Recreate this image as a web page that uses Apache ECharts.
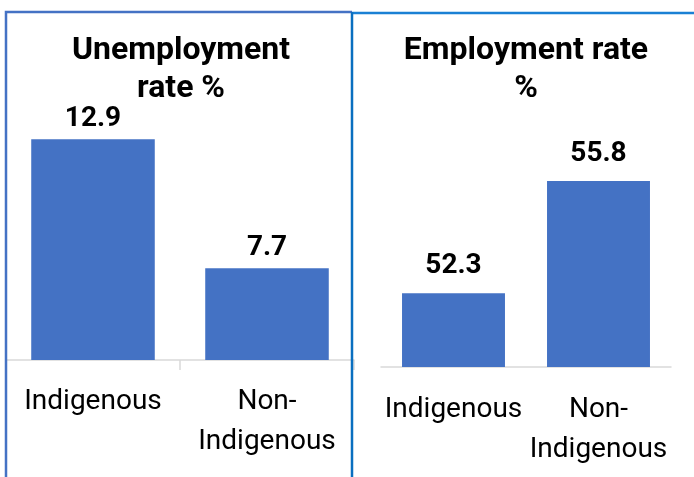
<!DOCTYPE html>
<html>
<head>
<meta charset="utf-8">
<script src="https://cdn.jsdelivr.net/npm/echarts@6/dist/echarts.min.js"></script>
<style>
html,body{margin:0;padding:0;background:#fff;}
#c{width:694px;height:477px;}
</style>
</head>
<body>
<div id="c"></div>
<script>
const categories = ['Indigenous', 'Non-\nIndigenous'];
const unemploymentTitle = 'Unemployment\nrate %';
const employmentTitle = 'Employment rate\n%';
const unemploymentValues = [12.9, 7.7];
const employmentValues = [52.3, 55.8];

const FONT = 'Roboto';
const BAR = '#4472C4';

const chart = echarts.init(document.getElementById('c'), null, {renderer: 'canvas'});
chart.setOption({
  backgroundColor: '#ffffff',
  animation: false,
  textStyle: {fontFamily: FONT},
  title: [
    {text: unemploymentTitle, left: 181, top: 32, textAlign: 'center', padding: 0,
     textStyle: {fontFamily: FONT, fontSize: 32, fontWeight: 'bold', color: '#000', lineHeight: 38}},
    {text: employmentTitle, left: 526, top: 32, textAlign: 'center', padding: 0,
     textStyle: {fontFamily: FONT, fontSize: 32, fontWeight: 'bold', color: '#000', lineHeight: 38}}
  ],
  grid: [
    {left: 6, width: 348, top: 112, height: 248},
    {left: 381, width: 290, top: 46.3, height: 320.7}
  ],
  xAxis: [
    {type: 'category', gridIndex: 0, data: categories,
     axisLine: {lineStyle: {color: '#d9d9d9', width: 1.5}},
     axisTick: {show: true, length: 10, lineStyle: {color: '#d9d9d9', width: 1.5}},
     axisLabel: {fontFamily: FONT, fontSize: 28, color: '#000', lineHeight: 40, margin: 22, interval: 0}},
    {type: 'category', gridIndex: 1, data: categories,
     axisLine: {lineStyle: {color: '#d9d9d9', width: 1.5}},
     axisTick: {show: false},
     axisLabel: {fontFamily: FONT, fontSize: 28, color: '#000', lineHeight: 40, margin: 23, interval: 0}}
  ],
  yAxis: [
    {type: 'value', gridIndex: 0, min: 4, max: 14, show: false, splitLine: {show: false}},
    {type: 'value', gridIndex: 1, min: 50, max: 60, show: false, splitLine: {show: false}}
  ],
  series: [
    {type: 'bar', xAxisIndex: 0, yAxisIndex: 0, data: unemploymentValues, barWidth: '71%',
     itemStyle: {color: BAR},
     label: {show: true, position: 'top', distance: 6, fontFamily: FONT, fontSize: 28, fontWeight: 'bold', color: '#000'}},
    {type: 'bar', xAxisIndex: 1, yAxisIndex: 1, data: employmentValues, barWidth: '71%',
     itemStyle: {color: BAR},
     label: {show: true, position: 'top', distance: 13, fontFamily: FONT, fontSize: 28, fontWeight: 'bold', color: '#000'}}
  ],
  graphic: [
    {type: 'polyline', z: 100, shape: {points: [[6, 477], [6, 12], [352, 12]]},
     style: {stroke: '#4472C4', lineWidth: 2.5, fill: null}},
    {type: 'polyline', z: 101, shape: {points: [[694, 13], [352, 13]]},
     style: {stroke: '#1a80d4', lineWidth: 2.5, fill: null}},
    {type: 'polyline', z: 102, shape: {points: [[352, 477], [352, 12]]},
     style: {stroke: '#0a6fc0', lineWidth: 2.5, fill: null}}
  ]
});
</script>
</body>
</html>
